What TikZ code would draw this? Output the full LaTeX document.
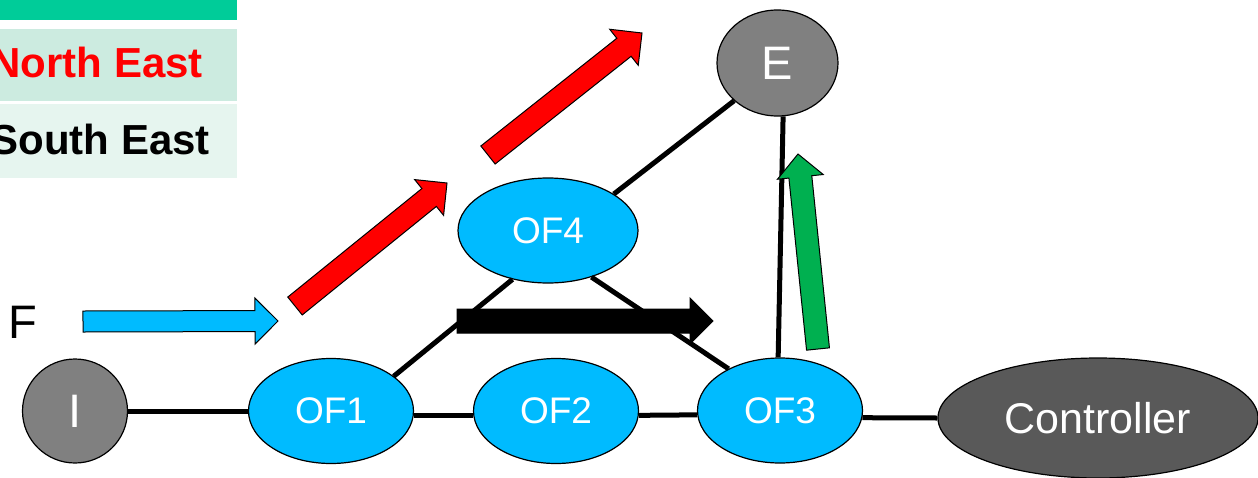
\documentclass[tikz,border=0pt]{standalone}
\usepackage{fontspec}
\setmainfont{Liberation Sans}
\usetikzlibrary{shapes.geometric,calc}
\definecolor{ofblue}{RGB}{0,187,255}
\definecolor{egray}{RGB}{128,128,128}
\definecolor{cgray}{RGB}{89,89,89}
\definecolor{legA}{RGB}{0,204,153}
\definecolor{legB}{RGB}{204,235,224}
\definecolor{legC}{RGB}{230,245,239}
\definecolor{arrgreen}{RGB}{0,176,80}
% block arrow: name, fill colour, tail, tip, shaft half width
\newcommand{\blockarr}[5]{%
  \coordinate (#1t) at #3;
  \coordinate (#1p) at #4;
  \coordinate (#1h) at ($(#1p)!23pt!(#1t)$);
  \draw[blockarrow, fill=#2]
    ($(#1t)!#5!90:(#1p)$) -- ($(#1h)!#5!90:(#1p)$) -- ($(#1h)!23pt!90:(#1p)$)
    -- (#1p)
    -- ($(#1h)!23pt!-90:(#1p)$) -- ($(#1h)!#5!-90:(#1p)$) -- ($(#1t)!#5!-90:(#1p)$) -- cycle;
}
\begin{document}
\begin{tikzpicture}[x=1pt,y=-1pt,
  ofnode/.style={ellipse, draw=black, line width=1.2pt, fill=ofblue, text=white,
    inner sep=0pt, minimum width=165pt, minimum height=105pt,
    font=\fontsize{37}{37}\selectfont},
  graynode/.style={ellipse, draw=black, line width=1.2pt, fill=egray, text=white,
    inner sep=0pt, font=\fontsize{47}{47}\selectfont},
  link/.style={line width=5pt, black},
  blockarrow/.style={draw=black, line width=1pt, line join=miter},
  legcell/.style={rectangle, inner sep=0pt, anchor=north east, minimum width=300pt},
  legtext/.style={font=\fontsize{42}{42}\selectfont\bfseries, anchor=base east, inner sep=0pt}
]
\useasboundingbox (0,0) rectangle (1258,477);
\clip (0,0) rectangle (1258,477);

% legend
\node[legcell, fill=legA, minimum height=20pt] (leg1) at (237,0) {};
\node[legcell, fill=legB, minimum height=72pt] (leg2) at (237,29) {};
\node[legcell, fill=legC, minimum height=74pt] (leg3) at (237,104) {};
\node[legtext, text=red] (ne) at (203,77) {North East};
\node[legtext, text=black] (se) at (210,154) {South East};

% nodes
\node[graynode, minimum width=121pt, minimum height=106pt] (nE) at (777.5,63) {E};
\node[graynode, minimum width=105pt, minimum height=104pt] (nI) at (75,411) {I};
\node[ofnode] (of1) at (331,411) {OF1};
\node[ofnode] (of2) at (556,411) {OF2};
\node[ofnode] (of3) at (780,410.5) {OF3};
\node[ofnode, minimum width=180pt] (of4) at (548,230.5) {OF4};
\node[ellipse, draw=black, line width=1.2pt, fill=cgray, text=white, inner sep=0pt,
  minimum width=320pt, minimum height=120pt, font=\fontsize{43}{43}\selectfont]
  (ctrl) at (1098,418) {Controller};
\node[font=\fontsize{47}{47}\selectfont, inner sep=0pt] (nF) at (22.5,322) {F};

% links
\draw[link] (nI.east) -- (of1.west);
\draw[link] (of1.-3) -- (of2.183);
\draw[link] (of2.-3.5) -- (of3.183.5);
\draw[link] (of3.-5) -- (ctrl.west);
\draw[link] (of1.29) -- (of4.234);
\draw[link] (of4.-47) -- (of3.141);
\draw[link] (of4.29) -- (nE.221);
\draw[link] (nE.-84) -- (of3.92);

% block arrows
\blockarr{ba}{ofblue}{(83,321.5)}{(278,321)}{10.5pt}
\blockarr{rb}{red}{(295,306)}{(447,183)}{11.5pt}
\blockarr{rc}{red}{(488,155)}{(642,33)}{11.5pt}
\blockarr{kd}{black}{(457,321)}{(713,321)}{12pt}
\blockarr{ge}{arrgreen}{(818,349)}{(798,154)}{11.5pt}
\end{tikzpicture}
\end{document}
